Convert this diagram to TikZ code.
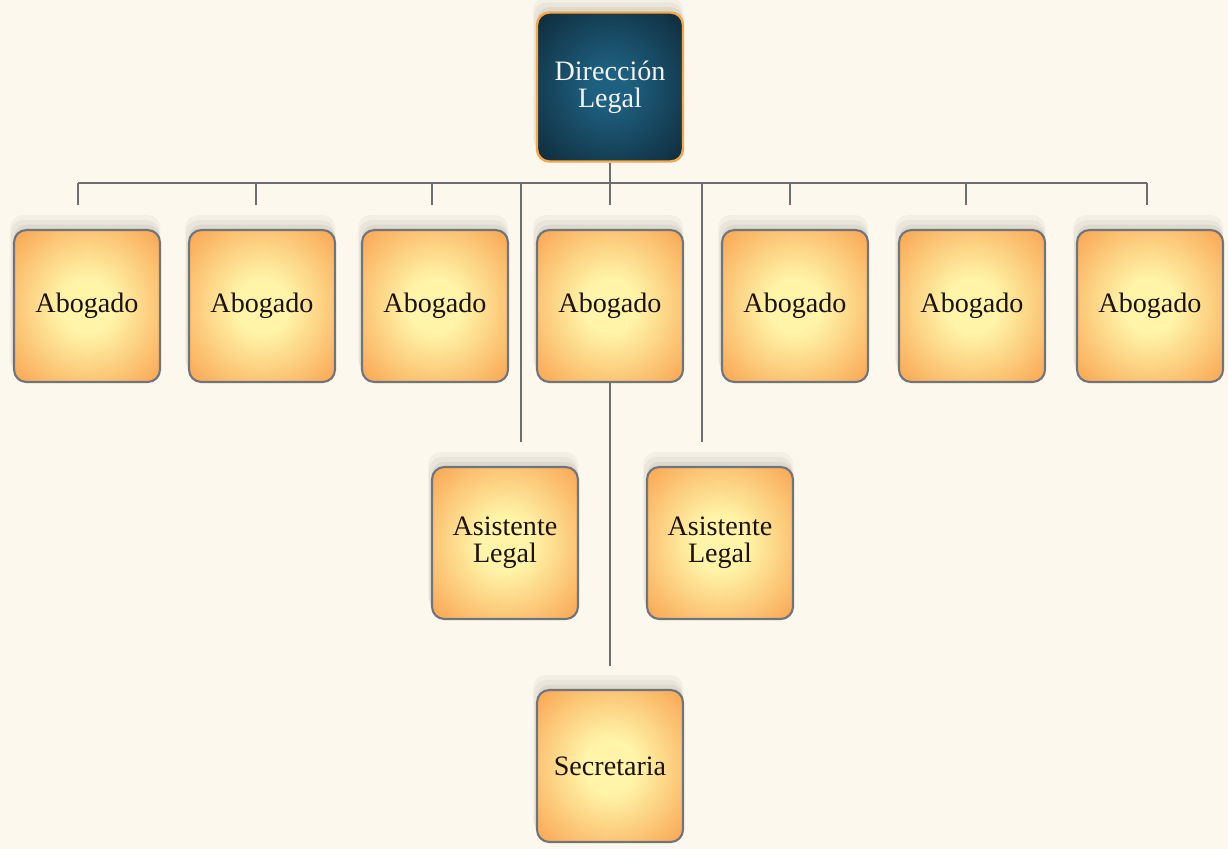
\documentclass[tikz,border=0pt]{standalone}
\usepackage{fontspec}
\setmainfont{Liberation Serif}
\usetikzlibrary{positioning,shadows}

\definecolor{paper}{RGB}{252,248,237}
\definecolor{boxout}{RGB}{249,163,80}
\definecolor{boxin}{RGB}{255,244,168}
\definecolor{boxline}{RGB}{112,116,124}
\definecolor{dirout}{RGB}{13,34,47}
\definecolor{dirin}{RGB}{30,96,128}
\definecolor{dirline}{RGB}{246,168,72}
\definecolor{linkgray}{RGB}{108,110,114}

\pgfdeclareradialshading{glow}{\pgfpoint{0bp}{0bp}}{color(0bp)=(boxin); color(9bp)=(boxin); color(36bp)=(boxout); color(50bp)=(boxout)}
\pgfdeclareradialshading{deep}{\pgfpoint{0bp}{0bp}}{color(0bp)=(dirin); color(6bp)=(dirin); color(40bp)=(dirout); color(50bp)=(dirout)}

\begin{document}
\begin{tikzpicture}[
  x=0.02cm, y=-0.02cm,
  every node/.style={font=\fontsize{16}{15.5}\selectfont},
  soft/.style={
    general shadow={shadow xshift=-1pt, shadow yshift=7pt, shadow scale=1.03, opacity=0.035, fill=black},
    general shadow={shadow xshift=-1pt, shadow yshift=5pt, shadow scale=1.015, opacity=0.04, fill=black},
    general shadow={shadow yshift=3pt, opacity=0.05, fill=black}},
  post/.style={rectangle, rounded corners=7pt, draw=boxline, line width=1.2pt,
               shading=glow, soft, minimum width=2.92cm, minimum height=3.04cm,
               align=center, text=black!85!brown, inner sep=2pt},
  head/.style={post, draw=dirline, line width=1.4pt, shading=deep,
               text=white!90!gray, minimum height=2.98cm},
  link/.style={draw=linkgray, line width=1.1pt},
]
  % Page
  \path[use as bounding box, fill=paper] (0,0) rectangle (1228,849);
  % Head
  \node[head] (dir) at (610,87) {Dirección\\Legal};
  % Lawyers row
  \foreach \cx/\sx [count=\i] in {87/78, 262/256, 435/432, 610/610, 795/790, 972/966, 1150/1147} {
    \node[post] (ab\i) at (\cx,306) {Abogado};
    \coordinate (s\i) at (\sx,183);
  }
  % Assistants and secretary
  \node[post] (as1) at (505,543) {Asistente\\Legal};
  \node[post] (as2) at (720,543) {Asistente\\Legal};
  \node[post] (sec) at (610,766) {Secretaria};
  \coordinate (t1) at (521,183);
  \coordinate (t2) at (702,183);
  % Bus and stubs
  \draw[link] (s1) -- (s7);
  \draw[link] (dir.south) -- (dir.south |- s1);
  \foreach \i in {1,...,7} {
    \draw[link, shorten >=0.48cm] (s\i) -- (s\i |- ab\i.north);
  }
  \draw[link, shorten >=0.48cm] (t1) -- (t1 |- as1.north);
  \draw[link, shorten >=0.48cm] (t2) -- (t2 |- as2.north);
  \draw[link, shorten >=0.46cm] (ab4.south) -- (sec.north);
\end{tikzpicture}
\end{document}
